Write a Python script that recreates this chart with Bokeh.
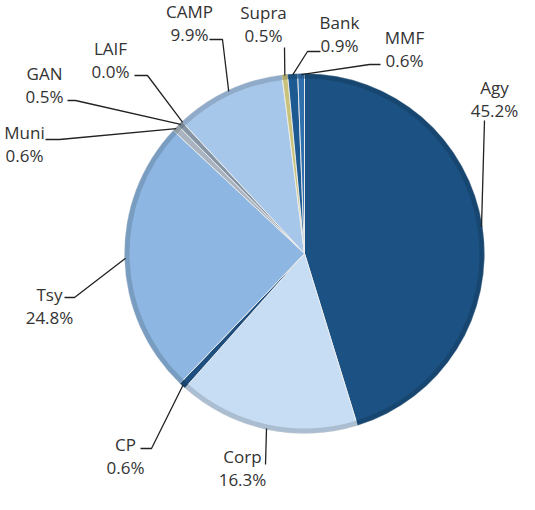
import math
from bokeh.plotting import figure
from bokeh.models import Range1d, ColumnDataSource
from bokeh.embed import file_html
from bokeh.resources import INLINE
from bokeh.core.properties import value

# ---------------- data ----------------
categories = ["Agy", "Corp", "CP", "Tsy", "Muni", "GAN", "LAIF", "CAMP", "Supra", "Bank", "MMF"]
shares = [45.2, 16.3, 0.6, 24.8, 0.6, 0.5, 0.0, 9.9, 0.5, 0.9, 0.6]
pct_labels = [f"{v:.1f}%" for v in shares]

# ---------------- styles / layout ----------------
colors = ["#1c5283", "#c7ddf3", "#1f4f7f", "#8db7e2", "#a9b4c0", "#8796a6",
          "#b0b0b0", "#a7c7ea", "#c9c27a", "#1e5a92", "#2f6fae"]

FRAME_H = 510           # reference frame height (screen coords -> data coords)
CX, CY_SCREEN, R = 312, 261, 180

# label centre (screen coords) of first line
label_x = [502, 250, 133, 57, 32, 52, 118, 197, 271, 347, 412]
label_y = [95, 464, 452, 302, 140, 81, 56, 19, 20, 30, 45]
LINE_GAP = 23
# leader elbow and end (screen coords)
elbow_x = [492, 273, 159, 82, 67, 83, 155, 230, 292, 315, 377]
elbow_y = [128, 472, 456, 305, 147, 108, 83, 47, 55, 59, 72]
end_x = [492, 273, 148, 72, 53, 75, 142, 217, 292, 328, 388]
end_y = [128, 472, 456, 305, 147, 108, 83, 47, 55, 59, 72]


def Y(sy):
    return FRAME_H - sy


def darker(hexc, f=0.8):
    r, g, b = (int(hexc[i:i + 2], 16) for i in (1, 3, 5))
    return "#%02x%02x%02x" % (int(r * f), int(g * f), int(b * f))


total = sum(shares)
starts, ends, mids = [], [], []
cum = 0.0
for v in shares:
    a0 = math.pi / 2 - 2 * math.pi * cum / total
    cum += v
    a1 = math.pi / 2 - 2 * math.pi * cum / total
    starts.append(a0)
    ends.append(a1)
    mids.append((a0 + a1) / 2)

CY = Y(CY_SCREEN)

keep = [i for i, v in enumerate(shares) if v > 0]
src = ColumnDataSource(dict(
    cat=[categories[i] for i in keep],
    start=[starts[i] for i in keep],
    end=[ends[i] for i in keep],
    color=[colors[i] for i in keep],
    rim=[darker(colors[i]) for i in keep],
))

p = figure(width=519, height=494, x_range=Range1d(8, 527), y_range=Range1d(8, 502),
           output_backend="svg", toolbar_location=None, min_border=0,
           x_axis_type=None, y_axis_type=None)
p.grid.visible = False
p.outline_line_color = None
p.background_fill_color = "white"
p.border_fill_color = "white"

p.wedge(x=CX, y=CY, radius=R, start_angle="start", end_angle="end", direction="clock",
        fill_color="color", line_color="#eeeeee", line_width=0.9, source=src)
p.annular_wedge(x=CX, y=CY, inner_radius=R - 5, outer_radius=R, start_angle="start",
                end_angle="end", direction="clock", fill_color="rim", fill_alpha=0.7,
                line_color=None, source=src)

# leaders
xs, ys = [], []
for i in range(len(categories)):
    px = CX + (R - 1) * math.cos(mids[i])
    py = CY + (R - 1) * math.sin(mids[i])
    xs.append([px, elbow_x[i], end_x[i]])
    ys.append([py, Y(elbow_y[i]), Y(end_y[i])])
p.multi_line(xs=xs, ys=ys, line_color="#222222", line_width=1.3)

# labels
tx = label_x + label_x
ty = [Y(v) for v in label_y] + [Y(v + LINE_GAP) for v in label_y]
tt = categories + pct_labels
p.text(x=tx, y=ty, text=tt, text_font=value("Open Sans"), text_font_size="17px",
       text_align="center", text_baseline="middle", text_color="#333333")

open("out.html", "w").write(file_html(p, INLINE))
